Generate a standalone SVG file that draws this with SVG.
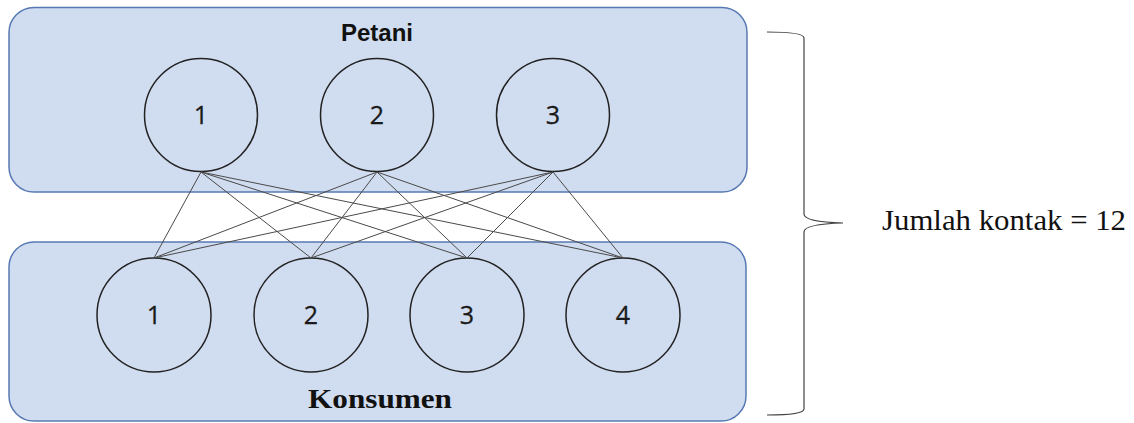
<svg xmlns="http://www.w3.org/2000/svg" width="1134" height="423" viewBox="0 0 1134 423">
<style>
.group{fill:#d0dcef;stroke:#5779b3;stroke-width:1.5}
.node{fill:#d0dcef;stroke:#222;stroke-width:1.5}
.num{font-family:"Open Sans","Liberation Sans",Arial,sans-serif;font-size:25px;fill:#1a1a1a;stroke:#1a1a1a;stroke-width:0.3;text-anchor:middle}
.conn line{stroke:#4a4a4a;stroke-width:1}
.title{font-family:"Liberation Sans",Arial,sans-serif;font-size:24px;font-weight:bold;fill:#111;text-anchor:middle}
.serif{font-family:"Liberation Serif","Times New Roman",serif;fill:#111}
</style>
<rect width="1134" height="423" fill="#fff"/>
<g id="petani-group">
<rect class="group" x="9" y="7.5" width="738" height="184.5" rx="25"/>
<text class="title" x="377" y="41">Petani</text>
</g>
<g id="konsumen-group">
<rect class="group" x="9" y="242" width="737" height="179" rx="25"/>
<text class="serif" x="308" y="408" font-size="27" font-weight="bold" textLength="144" lengthAdjust="spacingAndGlyphs">Konsumen</text>
</g>
<g id="p1"><circle class="node" cx="201" cy="115" r="56.5"/><text class="num" x="201" y="124">1</text></g>
<g id="p2"><circle class="node" cx="377" cy="115" r="56.5"/><text class="num" x="377" y="124">2</text></g>
<g id="p3"><circle class="node" cx="553" cy="115" r="56.5"/><text class="num" x="553" y="124">3</text></g>
<g id="k1"><circle class="node" cx="154" cy="315" r="57"/><text class="num" x="154" y="324">1</text></g>
<g id="k2"><circle class="node" cx="311" cy="315" r="57"/><text class="num" x="311" y="324">2</text></g>
<g id="k3"><circle class="node" cx="467" cy="315" r="57"/><text class="num" x="467" y="324">3</text></g>
<g id="k4"><circle class="node" cx="623" cy="315" r="57"/><text class="num" x="623" y="324">4</text></g>
<g id="connectors" class="conn">
<line x1="201" y1="172" x2="154" y2="258"/>
<line x1="201" y1="172" x2="311" y2="258"/>
<line x1="201" y1="172" x2="467" y2="258"/>
<line x1="201" y1="172" x2="623" y2="258"/>
<line x1="377" y1="172" x2="154" y2="258"/>
<line x1="377" y1="172" x2="311" y2="258"/>
<line x1="377" y1="172" x2="467" y2="258"/>
<line x1="377" y1="172" x2="623" y2="258"/>
<line x1="553" y1="172" x2="154" y2="258"/>
<line x1="553" y1="172" x2="311" y2="258"/>
<line x1="553" y1="172" x2="467" y2="258"/>
<line x1="553" y1="172" x2="623" y2="258"/>
</g>
<g id="brace">
<path d="M767 32 Q804 32 804 38 L804 214 Q804 222 843 223 Q804 224 804 232 L804 409 Q804 415 767 415" fill="none" stroke="#444" stroke-width="1.2"/>
</g>
<g id="label">
<text class="serif" x="882" y="230" font-size="29" textLength="244" lengthAdjust="spacingAndGlyphs">Jumlah kontak = 12</text>
</g>
</svg>
